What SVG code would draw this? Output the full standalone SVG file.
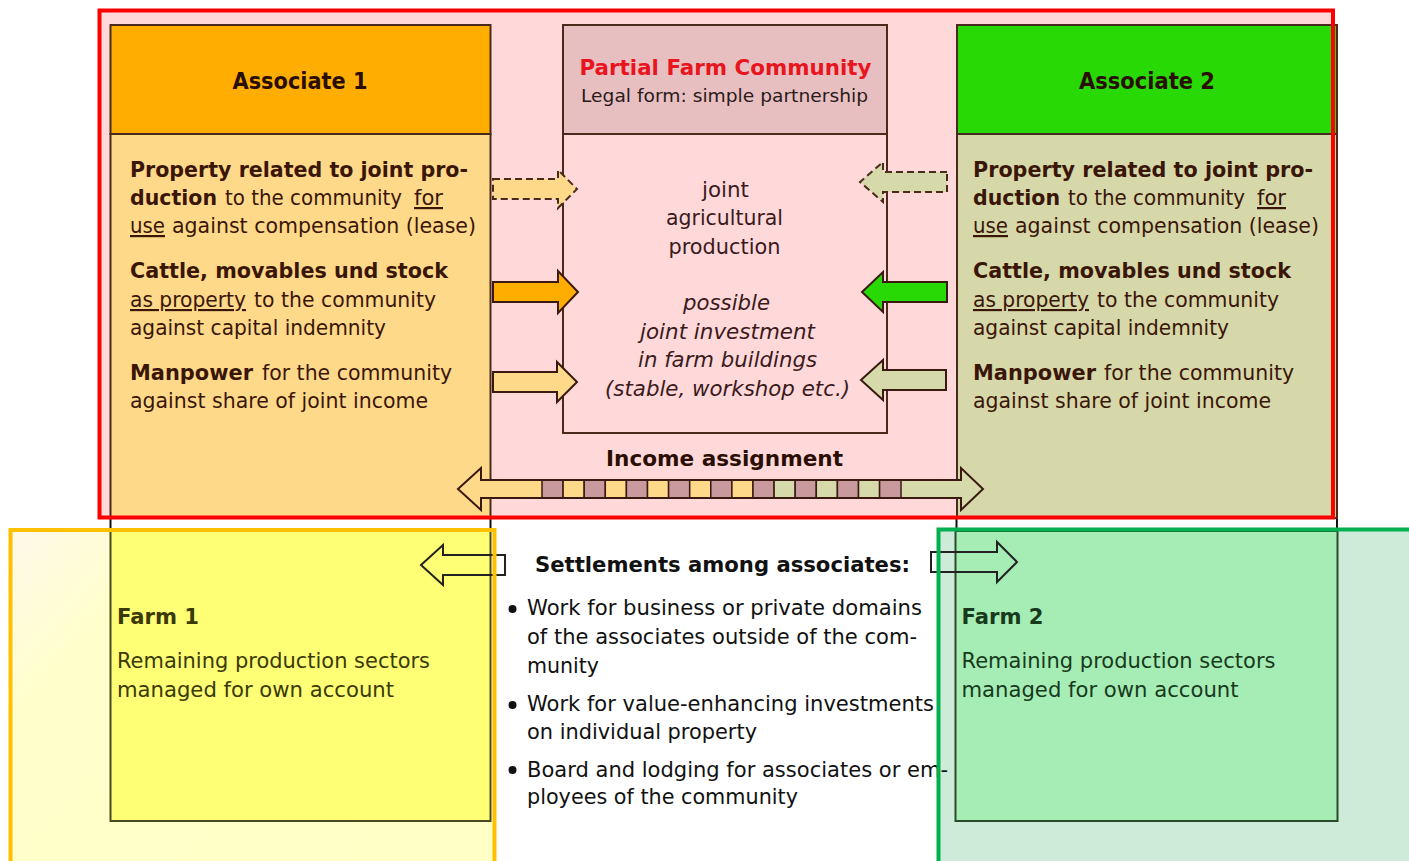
<svg xmlns="http://www.w3.org/2000/svg" width="1409" height="861" viewBox="0 0 1409 861">
<style>
text{font-family:"DejaVu Sans","Verdana",sans-serif;}
.b{font-weight:bold;}
.u{text-decoration:underline;}
.at{font-size:22px;fill:#3a1608;}
.sm{font-size:20.5px;}
.sm2{font-size:21.5px;}
.hd{font-size:23px;font-weight:bold;fill:#2a0e00;}
.ct{font-size:22px;fill:#3a1a1a;}
.it{font-style:italic;}
.bl{font-size:22px;fill:#111;}
.f1{font-size:22px;fill:#3a3a06;}
.f2{font-size:22px;fill:#173a1c;}
.box{stroke:#4a2a1a;stroke-width:2;}
.arr{stroke:#3a1a10;stroke-width:2;}
.dash{stroke:#4a2a1a;stroke-width:2;stroke-dasharray:7,4;}
.seg{stroke:#3a1a10;stroke-width:1.5;}
</style>
<defs>
<linearGradient id="yg" x1="0" y1="0" x2="1" y2="0.6">
<stop offset="0" stop-color="#fff9ea"/>
<stop offset="0.25" stop-color="#ffffcc"/>
<stop offset="1" stop-color="#ffffc6"/>
</linearGradient>
</defs>
<rect width="1409" height="861" fill="#ffffff"/>

<g id="community-frame">
<rect x="99.5" y="10.5" width="1233.5" height="507" fill="#ffd8da"/>
</g>
<g id="farm1-frame-fill"><rect x="10.5" y="530" width="484" height="340" fill="url(#yg)"/></g>
<g id="farm2-frame-fill"><rect x="938.5" y="529.5" width="480" height="340" fill="#cdebd8"/></g>

<g stroke="#111" stroke-width="2">
<line x1="110.5" y1="516" x2="110.5" y2="532"/>
<line x1="490.5" y1="516" x2="490.5" y2="532"/>
<line x1="956.5" y1="516" x2="956.5" y2="532"/>
<line x1="1337" y1="25" x2="1337" y2="530"/>
</g>

<g id="associate1">
<rect class="box" x="110.5" y="25" width="380" height="109" fill="#ffad00"/>
<rect class="box" x="110.5" y="134" width="380" height="384" fill="#ffd98a"/>
<text class="hd" x="300" y="89" text-anchor="middle" textLength="135" lengthAdjust="spacingAndGlyphs">Associate 1</text>
<text class="at b" x="130" y="177" textLength="338" lengthAdjust="spacingAndGlyphs">Property related to joint pro-</text>
<text class="at b" x="130" y="205" textLength="87" lengthAdjust="spacingAndGlyphs">duction</text>
<text class="at sm" x="225" y="205" textLength="177" lengthAdjust="spacingAndGlyphs">to the community</text>
<text class="at u" x="414" y="205" textLength="29" lengthAdjust="spacingAndGlyphs">for</text>
<text class="at u" x="130" y="233" textLength="35" lengthAdjust="spacingAndGlyphs">use</text>
<text class="at" x="172" y="233" textLength="304" lengthAdjust="spacingAndGlyphs">against compensation (lease)</text>
<text class="at b" x="130" y="278" textLength="318" lengthAdjust="spacingAndGlyphs">Cattle, movables und stock</text>
<text class="at u sm2" x="130" y="307" textLength="116" lengthAdjust="spacingAndGlyphs">as property</text>
<text class="at" x="254" y="307" textLength="182" lengthAdjust="spacingAndGlyphs">to the community</text>
<text class="at" x="130" y="335" textLength="256" lengthAdjust="spacingAndGlyphs">against capital indemnity</text>
<text class="at b" x="130" y="380" textLength="123" lengthAdjust="spacingAndGlyphs">Manpower</text>
<text class="at" x="262" y="380" textLength="190" lengthAdjust="spacingAndGlyphs">for the community</text>
<text class="at" x="130" y="408" textLength="298" lengthAdjust="spacingAndGlyphs">against share of joint income</text>
</g>

<g id="community">
<rect class="box" x="563" y="25" width="324" height="109" fill="#e8bfc1"/>
<rect class="box" x="563" y="134" width="324" height="299" fill="#ffd8da"/>
<text x="725.5" y="75" text-anchor="middle" font-size="22" font-weight="bold" fill="#e8141e" textLength="292" lengthAdjust="spacingAndGlyphs">Partial Farm Community</text>
<text x="724.5" y="102" text-anchor="middle" font-size="18" fill="#2a1a1a" textLength="287" lengthAdjust="spacingAndGlyphs">Legal form: simple partnership</text>
<text class="ct" x="725.5" y="197" text-anchor="middle" textLength="47" lengthAdjust="spacingAndGlyphs">joint</text>
<text class="ct" x="724.5" y="225" text-anchor="middle" textLength="117" lengthAdjust="spacingAndGlyphs">agricultural</text>
<text class="ct" x="724.5" y="254" text-anchor="middle" textLength="112" lengthAdjust="spacingAndGlyphs">production</text>
<text class="ct it" x="726.5" y="310" text-anchor="middle" textLength="87" lengthAdjust="spacingAndGlyphs">possible</text>
<text class="ct it" x="727.5" y="339" text-anchor="middle" textLength="175" lengthAdjust="spacingAndGlyphs">joint investment</text>
<text class="ct it" x="727.5" y="367" text-anchor="middle" textLength="179" lengthAdjust="spacingAndGlyphs">in farm buildings</text>
<text class="ct it" x="727.5" y="396" text-anchor="middle" textLength="245" lengthAdjust="spacingAndGlyphs">(stable, workshop etc.)</text>
</g>

<g id="associate2">
<rect class="box" x="957" y="25" width="380" height="109" fill="#28d905"/>
<rect class="box" x="957" y="134" width="380" height="384" fill="#d6d8a9"/>
<text class="hd" x="1147" y="89" text-anchor="middle" textLength="136" lengthAdjust="spacingAndGlyphs">Associate 2</text>
<text class="at b" x="973" y="177" textLength="340" lengthAdjust="spacingAndGlyphs">Property related to joint pro-</text>
<text class="at b" x="973" y="205" textLength="87" lengthAdjust="spacingAndGlyphs">duction</text>
<text class="at sm" x="1068" y="205" textLength="177" lengthAdjust="spacingAndGlyphs">to the community</text>
<text class="at u" x="1257" y="205" textLength="29" lengthAdjust="spacingAndGlyphs">for</text>
<text class="at u" x="973" y="233" textLength="35" lengthAdjust="spacingAndGlyphs">use</text>
<text class="at" x="1015" y="233" textLength="304" lengthAdjust="spacingAndGlyphs">against compensation (lease)</text>
<text class="at b" x="973" y="278" textLength="318" lengthAdjust="spacingAndGlyphs">Cattle, movables und stock</text>
<text class="at u sm2" x="973" y="307" textLength="116" lengthAdjust="spacingAndGlyphs">as property</text>
<text class="at" x="1097" y="307" textLength="182" lengthAdjust="spacingAndGlyphs">to the community</text>
<text class="at" x="973" y="335" textLength="256" lengthAdjust="spacingAndGlyphs">against capital indemnity</text>
<text class="at b" x="973" y="380" textLength="123" lengthAdjust="spacingAndGlyphs">Manpower</text>
<text class="at" x="1104" y="380" textLength="190" lengthAdjust="spacingAndGlyphs">for the community</text>
<text class="at" x="973" y="408" textLength="298" lengthAdjust="spacingAndGlyphs">against share of joint income</text>
</g>

<g id="connectors">
<polygon class="dash" fill="#ffd98a" points="493,179 558,179 558,170 577,189 558,208 558,199 493,199"/>
<polygon class="arr" fill="#ffad00" points="493,282 558,282 558,271 578,292 558,313 558,302 493,302"/>
<polygon class="arr" fill="#ffd98a" stroke-width="1.5" points="493,372 557,372 557,362 577,382 557,402 557,392 493,392"/>
<polygon class="dash" fill="#d6d9aa" points="947,172 883,172 883,162 860,182 883,202 883,192 947,192"/>
<polygon class="arr" fill="#28d905" points="947,282 883,282 883,272 862,292 883,312 883,302 947,302"/>
<polygon class="arr" fill="#d6d9aa" stroke-width="1.5" points="946,370 883,370 883,360 861,380 883,400 883,390 946,390"/>
<polygon fill="#ffd98a" points="458,489 481,468 481,480 542,480 542,498 481,498 481,510"/>
<polygon fill="#d6d9aa" points="983,489 961,468 961,480 901,480 901,498 961,498 961,510"/>
<g class="seg">
<rect x="542.0" y="480" width="21.1" height="18" fill="#c99a9d"/>
<rect x="563.1" y="480" width="21.1" height="18" fill="#ffd98a"/>
<rect x="584.2" y="480" width="21.1" height="18" fill="#c99a9d"/>
<rect x="605.3" y="480" width="21.1" height="18" fill="#ffd98a"/>
<rect x="626.4" y="480" width="21.1" height="18" fill="#c99a9d"/>
<rect x="647.5" y="480" width="21.1" height="18" fill="#ffd98a"/>
<rect x="668.6" y="480" width="21.1" height="18" fill="#c99a9d"/>
<rect x="689.7" y="480" width="21.1" height="18" fill="#ffd98a"/>
<rect x="710.8" y="480" width="21.1" height="18" fill="#c99a9d"/>
<rect x="731.9" y="480" width="21.1" height="18" fill="#ffd98a"/>
<rect x="753.0" y="480" width="21.1" height="18" fill="#c99a9d"/>
<rect x="774.1" y="480" width="21.1" height="18" fill="#d6d9aa"/>
<rect x="795.2" y="480" width="21.1" height="18" fill="#c99a9d"/>
<rect x="816.3" y="480" width="21.1" height="18" fill="#d6d9aa"/>
<rect x="837.4" y="480" width="21.1" height="18" fill="#c99a9d"/>
<rect x="858.5" y="480" width="21.1" height="18" fill="#d6d9aa"/>
<rect x="879.6" y="480" width="21.4" height="18" fill="#c99a9d"/>
</g>
<polygon class="arr" fill="none" stroke-width="1.5" points="458,489 481,468 481,480 961,480 961,468 983,489 961,510 961,498 481,498 481,510"/>
</g>

<g id="income-label">
<text x="724.5" y="466" text-anchor="middle" font-size="22" font-weight="bold" fill="#2a0e00" textLength="237" lengthAdjust="spacingAndGlyphs">Income assignment</text>
</g>

<g id="farm1">
<rect x="110.5" y="531" width="380" height="290" fill="#ffff75" stroke="#4a4a20" stroke-width="2"/>
<text class="f1 b" x="117" y="624" textLength="82" lengthAdjust="spacingAndGlyphs">Farm 1</text>
<text class="f1" x="117" y="668" textLength="313" lengthAdjust="spacingAndGlyphs">Remaining production sectors</text>
<text class="f1" x="117" y="697" textLength="277" lengthAdjust="spacingAndGlyphs">managed for own account</text>
</g>

<g id="farm2">
<rect x="955.5" y="531" width="382" height="290" fill="#a6edb5" stroke="#2a4a2a" stroke-width="2"/>
<text class="f2 b" x="961.5" y="624" textLength="82" lengthAdjust="spacingAndGlyphs">Farm 2</text>
<text class="f2" x="961.5" y="668" textLength="314" lengthAdjust="spacingAndGlyphs">Remaining production sectors</text>
<text class="f2" x="961.5" y="697" textLength="277" lengthAdjust="spacingAndGlyphs">managed for own account</text>
</g>

<g id="settlements">
<polygon fill="none" stroke="#222" stroke-width="2" points="505,555 443,555 443,545 421,565 443,585 443,575 505,575"/>
<polygon fill="none" stroke="#222" stroke-width="2" points="931,552 997,552 997,542 1017,562 997,582 997,572 931,572"/>
<text x="535" y="572" font-size="21" font-weight="bold" fill="#111" textLength="375" lengthAdjust="spacingAndGlyphs">Settlements among associates:</text>
<g fill="#111">
<circle cx="512.5" cy="609" r="4"/>
<circle cx="512.5" cy="705" r="4"/>
<circle cx="512.5" cy="770" r="4"/>
</g>
<text class="bl" x="527" y="615" textLength="395" lengthAdjust="spacingAndGlyphs">Work for business or private domains</text>
<text class="bl" x="527" y="644" textLength="390" lengthAdjust="spacingAndGlyphs">of the associates outside of the com-</text>
<text class="bl" x="527" y="673" textLength="72" lengthAdjust="spacingAndGlyphs">munity</text>
<text class="bl" x="527" y="711" textLength="407" lengthAdjust="spacingAndGlyphs">Work for value-enhancing investments</text>
<text class="bl" x="527" y="739" textLength="230" lengthAdjust="spacingAndGlyphs">on individual property</text>
<text class="bl" x="527" y="777" textLength="421" lengthAdjust="spacingAndGlyphs">Board and lodging for associates or em-</text>
<text class="bl" x="527" y="804" textLength="271" lengthAdjust="spacingAndGlyphs">ployees of the community</text>
</g>

<g fill="none">
<rect x="99.5" y="10.5" width="1233.5" height="507" stroke="#ff0000" stroke-width="4"/>
<rect x="10.5" y="530" width="484" height="340" stroke="#ffc000" stroke-width="4"/>
<rect x="938.5" y="529.5" width="480" height="340" stroke="#00b050" stroke-width="4"/>
</g>
</svg>
